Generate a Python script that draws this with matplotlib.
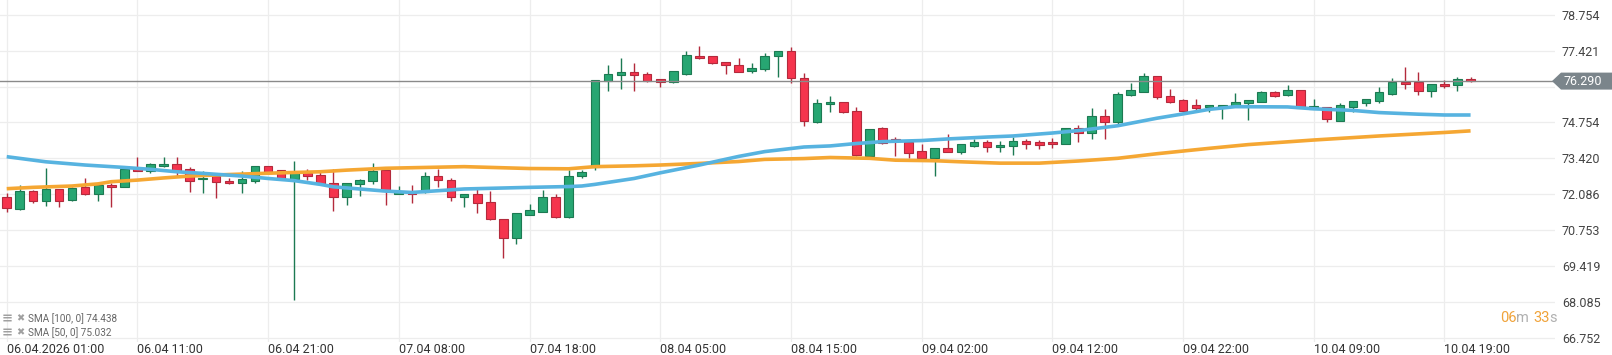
import matplotlib
matplotlib.use("Agg")
import matplotlib.pyplot as plt
from matplotlib.patches import Polygon

# --- data (hourly candles, 06.04 01:00 .. 10.04 21:00) ---
opens = [71.97, 71.52, 72.19, 71.82, 72.27, 71.86, 72.36, 72.08, 72.41, 72.36,
         73.01, 72.93, 73.12, 73.20, 73.01, 72.66, 72.75, 72.57, 72.49, 72.59,
         73.12, 72.97, 72.66, 72.86, 72.79, 72.49, 71.99, 72.45, 72.59, 72.98,
         72.10, 72.14, 72.15, 72.78, 72.63, 72.00, 72.08, 71.78, 71.17, 70.44,
         71.33, 71.44, 72.00, 71.22, 72.75, 73.08, 76.28, 76.50, 76.62, 76.54,
         76.36, 76.24, 76.57, 77.22, 77.22, 76.99, 76.88, 76.65, 76.73, 77.21,
         77.40, 76.42, 74.78, 75.43, 75.50, 75.18, 73.50, 74.53, 74.14, 74.04,
         73.69, 73.44, 73.79, 73.66, 73.89, 74.01, 73.83, 73.89, 74.06, 74.01,
         74.02, 73.97, 74.53, 74.35, 74.98, 74.78, 75.76, 75.90, 76.47, 75.72,
         75.57, 75.39, 75.31, 75.33, 75.38, 75.46, 75.52, 75.87, 75.76, 75.95,
         75.26, 75.31, 74.82, 75.34, 75.49, 75.56, 75.81, 76.26, 76.26, 75.91,
         76.17, 76.13, 76.36]
highs = [72.12, 72.41, 72.24, 73.05, 72.29, 72.34, 72.67, 72.44, 72.49, 73.03,
         73.46, 73.23, 73.46, 73.46, 73.08, 72.93, 72.77, 72.70, 72.93, 73.13,
         73.13, 72.98, 73.32, 73.01, 72.96, 73.01, 72.51, 72.66, 73.26, 73.01,
         72.39, 72.42, 72.90, 73.03, 72.70, 72.11, 72.34, 72.21, 71.18, 71.38,
         71.72, 72.24, 72.10, 72.98, 72.98, 76.33, 76.89, 77.14, 76.95, 76.64,
         76.37, 76.67, 77.40, 77.60, 77.23, 77.00, 77.14, 76.95, 77.35, 77.41,
         77.55, 76.58, 75.61, 75.74, 75.51, 75.31, 74.51, 74.57, 74.23, 74.05,
         73.94, 73.81, 74.31, 73.97, 74.12, 74.10, 74.06, 74.21, 74.13, 74.10,
         74.16, 74.54, 74.67, 75.28, 75.24, 75.90, 76.23, 76.58, 76.48, 75.98,
         75.61, 75.61, 75.40, 75.40, 75.83, 75.59, 75.91, 75.91, 76.14, 75.96,
         75.61, 75.33, 75.46, 75.56, 75.62, 76.06, 76.39, 76.80, 76.62, 76.18,
         76.32, 76.43, 76.43]
lows = [71.43, 71.50, 71.74, 71.66, 71.62, 71.84, 72.07, 71.82, 71.62, 72.36,
        72.93, 72.86, 73.08, 72.76, 72.18, 72.12, 71.95, 72.48, 72.12, 72.51,
        72.88, 72.62, 68.15, 72.61, 72.45, 71.46, 71.68, 72.03, 72.46, 71.68,
        72.08, 71.77, 72.14, 72.36, 71.85, 71.62, 71.37, 71.11, 69.70, 70.25,
        71.31, 71.43, 71.21, 71.21, 72.68, 72.98, 75.93, 75.98, 75.93, 76.24,
        76.06, 76.23, 76.53, 77.12, 76.94, 76.54, 76.61, 76.58, 76.65, 76.43,
        76.23, 74.63, 74.74, 75.15, 75.12, 73.51, 73.44, 73.97, 73.51, 73.44,
        73.40, 72.77, 73.65, 73.59, 73.85, 73.66, 73.66, 73.55, 73.78, 73.78,
        73.81, 73.96, 74.04, 74.14, 74.15, 74.69, 75.75, 75.88, 75.61, 75.49,
        75.15, 75.21, 75.15, 74.89, 75.36, 74.84, 75.51, 75.71, 75.75, 75.29,
        75.25, 74.78, 74.80, 75.15, 75.38, 75.46, 75.78, 75.98, 75.76, 75.71,
        76.02, 75.93, 76.27]
closes = [71.56, 72.19, 71.82, 72.27, 71.84, 72.31, 72.08, 72.41, 72.34, 73.01,
          72.96, 73.20, 73.20, 72.96, 72.59, 72.70, 72.53, 72.49, 72.64, 73.12,
          72.92, 72.64, 72.88, 72.77, 72.46, 71.99, 72.49, 72.61, 72.96, 72.20,
          72.15, 72.11, 72.78, 72.60, 72.00, 72.09, 71.74, 71.15, 70.44, 71.37,
          71.48, 72.00, 71.22, 72.78, 72.90, 76.32, 76.54, 76.62, 76.50, 76.31,
          76.24, 76.65, 77.25, 77.14, 76.95, 76.88, 76.64, 76.78, 77.22, 77.40,
          76.42, 74.81, 75.46, 75.51, 75.13, 73.54, 74.50, 74.00, 74.10, 73.63,
          73.44, 73.79, 73.66, 73.94, 74.01, 73.85, 73.90, 74.05, 73.96, 73.93,
          73.94, 74.53, 74.35, 74.98, 74.76, 75.80, 75.95, 76.47, 75.69, 75.50,
          75.19, 75.28, 75.39, 75.39, 75.50, 75.57, 75.87, 75.75, 75.95, 75.30,
          75.35, 74.87, 75.39, 75.54, 75.61, 75.87, 76.26, 76.19, 75.91, 76.17,
          76.09, 76.36, 76.29]

# SMA lines, read at a few candles
sma50_idx = [0, 3, 6, 9, 11, 13, 15, 18, 20, 22, 24, 25, 27, 29, 31, 35, 40, 43,
             44, 45, 48, 50, 53, 56, 58, 61, 63, 65, 67, 70, 72, 75, 77, 80, 82,
             85, 88, 90, 92, 94, 98, 100, 103, 105, 108, 110, 112]
sma50_val = [73.48, 73.29, 73.17, 73.08, 73.01, 72.92, 72.86, 72.76, 72.67, 72.59,
             72.45, 72.36, 72.28, 72.20, 72.15, 72.28, 72.34, 72.37, 72.39, 72.45,
             72.67, 72.88, 73.17, 73.49, 73.67, 73.84, 73.88, 73.97, 74.04, 74.08,
             74.14, 74.21, 74.25, 74.36, 74.45, 74.63, 74.91, 75.07, 75.24, 75.34,
             75.33, 75.26, 75.20, 75.12, 75.06, 75.03, 75.03]
sma100_idx = [0, 2, 5, 7, 8, 10, 12, 14, 16, 19, 21, 24, 26, 29, 31, 35, 40, 43,
              45, 48, 50, 53, 56, 58, 61, 63, 66, 68, 71, 73, 76, 79, 82, 85, 88,
              90, 92, 95, 100, 105, 110, 112]
sma100_val = [72.29, 72.34, 72.39, 72.47, 72.55, 72.61, 72.69, 72.76, 72.80, 72.85,
              72.88, 72.92, 72.98, 73.05, 73.07, 73.11, 73.04, 73.03, 73.11, 73.14,
              73.17, 73.23, 73.30, 73.38, 73.41, 73.45, 73.42, 73.35, 73.33, 73.29,
              73.24, 73.24, 73.32, 73.42, 73.59, 73.69, 73.79, 73.93, 74.10, 74.25,
              74.38, 74.44]

x_ticks = [0, 10, 20, 30, 40, 50, 60, 70, 80, 90, 100, 110]
x_labels = ["06.04.2026 01:00", "06.04 11:00", "06.04 21:00", "07.04 08:00",
            "07.04 18:00", "08.04 05:00", "08.04 15:00", "09.04 02:00",
            "09.04 12:00", "09.04 22:00", "10.04 09:00", "10.04 19:00"]
y_ticks = [66.752, 68.085, 69.419, 70.753, 72.086, 73.420, 74.754, 76.087, 77.421, 78.754]
y_labels = ["66.752", "68.085", "69.419", "70.753", "72.086", "73.420", "74.754", "", "77.421", "78.754"]
sma_labels = ["SMA [100, 0] 74.438", "SMA [50, 0] 75.032"]
last_price = 76.290

GREEN, GREEN_EDGE = "#27a672", "#1c7a52"
RED, RED_EDGE = "#f5344d", "#b32a3c"
W, H = 1612, 355

fig = plt.figure(figsize=(W / 100, H / 100), dpi=100)
ax = fig.add_axes([0, 13 / H, 1555 / W, 342 / H])
ax.set_xlim(-0.513, 118.46)
ax.set_ylim(66.591, 79.305)

# candles
for i in range(len(opens)):
    o, h, l, c = opens[i], highs[i], lows[i], closes[i]
    up = c >= o
    fc, ec = (GREEN, GREEN_EDGE) if up else (RED, RED_EDGE)
    ax.vlines(i, l, h, color=ec, lw=1.0, zorder=2)
    ax.bar(i, max(abs(c - o), 0.02), bottom=min(o, c), width=0.66,
           color=fc, edgecolor=ec, linewidth=0.8, zorder=3)

# moving averages
ax.plot(sma100_idx, sma100_val, color="#f5a733", lw=2.6, zorder=4, solid_capstyle="butt")
ax.plot(sma50_idx, sma50_val, color="#57b3e0", lw=2.6, zorder=4, solid_capstyle="butt")

# last price line
ax.axhline(last_price, color="#8a8a8a", lw=1.0, zorder=5)

# axes styling
for s in ax.spines.values():
    s.set_visible(False)
ax.grid(True, color="#ededed", lw=0.9, zorder=0)
ax.set_axisbelow(True)
ax.set_xticks(x_ticks)
ax.set_xticklabels(x_labels, ha="left", fontsize=9, color="#333333", family="Roboto")
ax.set_yticks(y_ticks)
ax.yaxis.tick_right()
ax.set_yticklabels(y_labels, fontsize=9, color="#444444", family="Roboto")
ax.tick_params(axis="x", length=0, pad=1)
ax.tick_params(axis="y", length=0, pad=5)

# price tag on the right
fig.canvas.draw()
yp = ax.transData.transform((0, last_price))[1]
tag = Polygon([(1552, yp), (1561, yp + 8.5), (W, yp + 8.5), (W, yp - 8.5), (1561, yp - 8.5)],
              closed=True, transform=None, facecolor="#7b858b", edgecolor="none")
fig.patches.append(tag)
fig.text(1563 / W, yp / H, "76.290", color="white", fontsize=9, family="Roboto",
         va="center", ha="left")

# legend texts bottom-left
for k, lab in enumerate(sma_labels):
    yy = 1 - (318.5 + 14 * k) / H
    fig.text(2 / W, yy, "≡", color="#a0a0a0", fontsize=9.5, family="DejaVu Sans",
             va="center", weight="bold")
    fig.text(16 / W, yy, "✖", color="#a0a0a0", fontsize=7, family="DejaVu Sans", va="center")
    fig.text(28 / W, yy, lab, color="#666666", fontsize=7.2, family="Roboto", va="center")

# countdown timer
t1 = fig.text(1500 / W, 1 - 318 / H, "06", color="#f0a33a", fontsize=10.5,
              family="Roboto", va="center")
a2 = ax.annotate("m ", xy=(1, 0), xycoords=t1, va="bottom", color="#b0b0b0",
                 fontsize=10.5, family="Roboto", annotation_clip=False)
a3 = ax.annotate("33", xy=(1, 0), xycoords=a2, va="bottom", color="#f0a33a",
                 fontsize=10.5, family="Roboto", annotation_clip=False)
ax.annotate("s", xy=(1, 0), xycoords=a3, va="bottom", color="#b0b0b0",
            fontsize=10.5, family="Roboto", annotation_clip=False)

fig.savefig("out.png", dpi=100, facecolor="white")
